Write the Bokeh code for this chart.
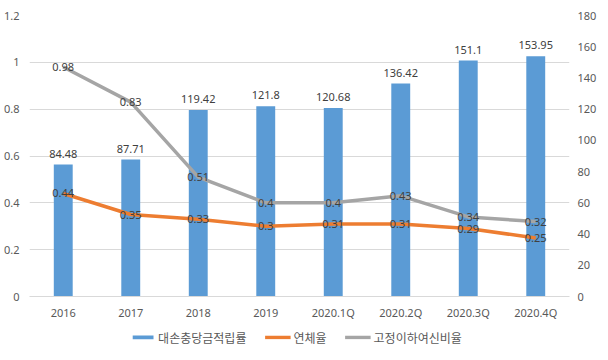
from bokeh.plotting import figure
from bokeh.models import (ColumnDataSource, FactorRange, Range1d, LinearAxis, Legend, LegendItem,
                          LabelSet, FixedTicker)
from bokeh.layouts import column
from bokeh.embed import file_html
from bokeh.resources import INLINE
from bokeh.core.properties import value

categories = ["2016", "2017", "2018", "2019", "2020.1Q", "2020.2Q", "2020.3Q", "2020.4Q"]
reserve_ratio = [84.48, 87.71, 119.42, 121.8, 120.68, 136.42, 151.1, 153.95]   # 대손충당금적립률 (right axis)
delinquency = [0.44, 0.35, 0.33, 0.3, 0.31, 0.31, 0.29, 0.25]                  # 연체율 (left axis)
npl_ratio = [0.98, 0.83, 0.51, 0.4, 0.4, 0.43, 0.34, 0.32]                     # 고정이하여신비율 (left axis)
left_ticks = [0, 0.2, 0.4, 0.6, 0.8, 1.0, 1.2]
right_ticks = [0, 20, 40, 60, 80, 100, 120, 140, 160, 180]
series_names = ["대손충당금적립률", "연체율", "고정이하여신비율"]

FONT = "Noto Sans"
KFONT = "Noto Sans CJK KR"
TXT = "#595959"
C_BAR, C_DL, C_NPL = "#5b9bd5", "#ed7d31", "#a5a5a5"

src = ColumnDataSource(dict(
    cat=categories, bar=reserve_ratio, dl=delinquency, npl=npl_ratio,
    bar_txt=[f"{v:g}" for v in reserve_ratio],
    dl_txt=[f"{v:g}" for v in delinquency],
    npl_txt=[f"{v:g}" for v in npl_ratio],
))

p = figure(frame_width=540, frame_height=281, output_backend="svg", toolbar_location=None,
           x_range=FactorRange(*categories, range_padding=0),
           y_range=Range1d(0, 1.2),
           min_border_left=4, min_border_right=2, min_border_top=15, min_border_bottom=0)
p.extra_y_ranges = {"right": Range1d(0, 180)}
p.outline_line_color = None
p.background_fill_color = "white"
p.border_fill_color = "white"

# axes
p.yaxis.ticker = FixedTicker(ticks=left_ticks)
p.yaxis.axis_line_color = None
p.yaxis.major_tick_line_color = None
p.yaxis.major_tick_out = 0
p.yaxis.minor_tick_line_color = None
p.yaxis.major_label_text_color = TXT
p.yaxis.major_label_text_font = FONT
p.yaxis.major_label_text_font_size = "11px"
p.yaxis.major_label_standoff = 10

ra = LinearAxis(y_range_name="right", ticker=FixedTicker(ticks=right_ticks))
ra.axis_line_color = None
ra.major_tick_line_color = None
ra.major_tick_out = 0
ra.minor_tick_line_color = None
ra.major_label_text_color = TXT
ra.major_label_text_font = FONT
ra.major_label_text_font_size = "11px"
ra.major_label_standoff = 8
p.add_layout(ra, "right")

p.xaxis.axis_line_color = "#d9d9d9"
p.xaxis.major_tick_line_color = None
p.xaxis.major_tick_out = 0
p.xaxis.minor_tick_line_color = None
p.xaxis.major_label_text_color = TXT
p.xaxis.major_label_text_font = FONT
p.xaxis.major_label_text_font_size = "11px"
p.xaxis.major_label_standoff = 8

p.xgrid.grid_line_color = None
p.ygrid.grid_line_color = "#d9d9d9"
p.ygrid.ticker = FixedTicker(ticks=left_ticks)

p.vbar(x="cat", top="bar", width=0.28, source=src, y_range_name="right",
       fill_color=C_BAR, line_color=None)
p.line(x="cat", y="dl", source=src, line_color=C_DL, line_width=3.5)
p.line(x="cat", y="npl", source=src, line_color=C_NPL, line_width=3.5)

p.add_layout(LabelSet(x="cat", y="bar", text="bar_txt", source=src, y_range_name="right",
                      text_align="center", text_baseline="bottom", y_offset=7,
                      text_font=value(FONT), text_font_size="11px", text_color="#404040"))
p.add_layout(LabelSet(x="cat", y="dl", text="dl_txt", source=src,
                      text_align="center", text_baseline="middle",
                      text_font=value(FONT), text_font_size="11px", text_color="#404040"))
p.add_layout(LabelSet(x="cat", y="npl", text="npl_txt", source=src,
                      text_align="center", text_baseline="middle",
                      text_font=value(FONT), text_font_size="11px", text_color="#404040"))

# legend strip: same series drawn out of view, only the legend shows
lg = figure(width=592, height=30, output_backend="svg", toolbar_location=None,
            x_range=p.x_range, y_range=Range1d(1000, 1001),
            min_border_left=0, min_border_right=0, min_border_top=0, min_border_bottom=0)
lg.axis.visible = False
lg.grid.grid_line_color = None
lg.outline_line_color = None
lb = lg.vbar(x="cat", top="bar", width=0.28, source=src, fill_color=C_BAR, line_color=None)
ll1 = lg.line(x="cat", y="dl", source=src, line_color=C_DL, line_width=3.5)
ll2 = lg.line(x="cat", y="npl", source=src, line_color=C_NPL, line_width=3.5)

legend = Legend(items=[LegendItem(label=series_names[0], renderers=[lb]),
                       LegendItem(label=series_names[1], renderers=[ll1]),
                       LegendItem(label=series_names[2], renderers=[ll2])],
                orientation="horizontal", location="center",
                border_line_color=None, background_fill_alpha=0,
                label_text_font=KFONT, label_text_font_size="12px", label_text_color=TXT,
                label_height=14, glyph_width=26, glyph_height=5, label_standoff=3, spacing=18,
                padding=2, margin=0)
lg.add_layout(legend)

layout = column(p, lg, spacing=0)
open("out.html", "w").write(file_html(layout, INLINE))
